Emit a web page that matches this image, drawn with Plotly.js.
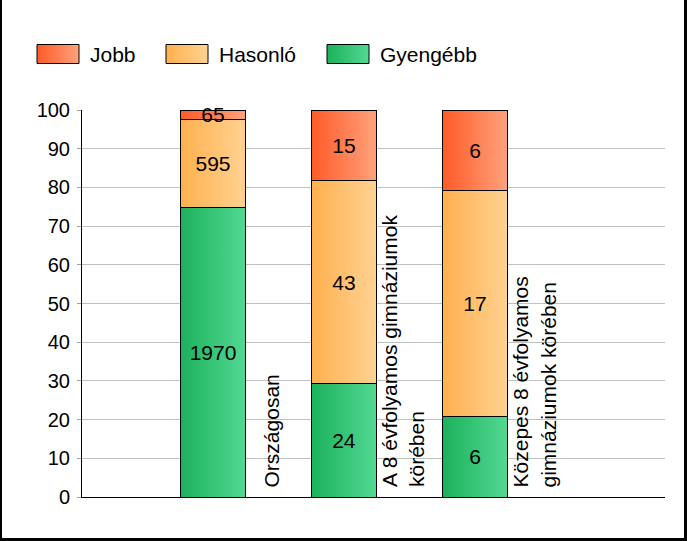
<!DOCTYPE html>
<html>
<head>
<meta charset="utf-8">
<script src="https://cdn.plot.ly/plotly-3.0.1.min.js"></script>
<style>
  html, body { margin: 0; padding: 0; background: #fff; }
  #wrap { position: relative; width: 687px; height: 541px; }
  #chart { position: absolute; left: 0; top: 0; width: 687px; height: 541px; }
  #frame { position: absolute; left: 0; top: 0; width: 687px; height: 541px; box-sizing: border-box;
           border-left: 2px solid #000; border-right: 3px solid #000; border-bottom: 3px solid #000; border-top: 0;
           pointer-events: none; }
</style>
</head>
<body>
<div id="wrap"><div id="chart"></div><div id="frame"></div></div>
<script>
// ---- data ----
const categories = ["Országosan", "A 8 évfolyamos gimnáziumok<br>körében", "Közepes 8 évfolyamos<br>gimnáziumok körében"];
const positions = [1, 2, 3];
const gyengebb = [1970, 24, 6];
const hasonlo  = [595, 43, 17];
const jobb     = [65, 15, 6];
const seriesNames = ["Jobb", "Hasonló", "Gyengébb"];
const yTicks = [0, 10, 20, 30, 40, 50, 60, 70, 80, 90, 100];

// gradient colours (left, right)
const gradJobb = ["#FF5A28", "#FFA27C"];
const gradHas  = ["#FFB04E", "#FFD292"];
const gradGy   = ["#1BB15C", "#52D892"];

const FONT = "'Liberation Sans', Arial, sans-serif";

function barTrace(name, vals, grad) {
  return {
    type: "bar", name: name, x: positions, y: vals,
    text: vals.map(String), textposition: "inside", insidetextanchor: "middle",
    textangle: 0, constraintext: "none", cliponaxis: false,
    textfont: { family: FONT, size: 21, color: "#000" },
    width: 0.5,
    marker: { color: grad[0], line: { color: "#000", width: 1 } },
    hoverinfo: "skip", showlegend: false
  };
}

const traces = [
  barTrace("Gyengébb", gyengebb, gradGy),
  barTrace("Hasonló", hasonlo, gradHas),
  barTrace("Jobb", jobb, gradJobb)
];

// plot geometry helpers for legend (pixels -> paper)
const L = 82, R = 22, T = 110, B = 44, W = 687, H = 541;
const pw = W - L - R, ph = H - T - B;
const px2x = p => (p - L) / pw;
const py2y = p => (H - B - p) / ph;

const legendItems = [
  { name: seriesNames[0], grad: gradJobb, x0: 37 },
  { name: seriesNames[1], grad: gradHas,  x0: 166 },
  { name: seriesNames[2], grad: gradGy,   x0: 327 }
];

const shapes = legendItems.map(it => ({
  type: "rect", xref: "paper", yref: "paper",
  x0: px2x(it.x0), x1: px2x(it.x0 + 42), y0: py2y(63.5), y1: py2y(44.5),
  fillcolor: it.grad[0], line: { color: "#000", width: 1 }, layer: "above"
}));

const annotations = legendItems.map(it => ({
  xref: "paper", yref: "paper", x: px2x(it.x0 + 51), y: py2y(54),
  xanchor: "left", yanchor: "middle", showarrow: false,
  text: it.name, font: { family: FONT, size: 21, color: "#000" }
}));

categories.forEach((c, i) => {
  annotations.push({
    xref: "x", yref: "y", x: positions[i] + 0.45, y: 0,
    xanchor: "center", yanchor: "bottom", yshift: 8,
    textangle: -90, align: "left", showarrow: false,
    text: c, font: { family: FONT, size: 21, color: "#000" }
  });
});

const layout = {
  width: W, height: H,
  margin: { l: L, r: R, t: T, b: B, pad: 0 },
  paper_bgcolor: "#fff", plot_bgcolor: "#fff",
  barmode: "stack", barnorm: "percent",
  showlegend: false,
  font: { family: FONT, size: 20, color: "#000" },
  xaxis: {
    range: [0, 4.45], showticklabels: false, ticks: "", showgrid: false,
    zeroline: false, showline: true, linecolor: "#000", linewidth: 1, fixedrange: true
  },
  yaxis: {
    range: [0, 100], tickvals: yTicks, ticktext: yTicks.map(String),
    ticks: "outside", ticklen: 4, tickcolor: "#a0a0a0", ticklabelstandoff: 3,
    showgrid: true, gridcolor: "#c0c0c0", gridwidth: 1,
    zeroline: false, showline: true, linecolor: "#000", linewidth: 1,
    tickfont: { family: FONT, size: 20, color: "#000" }, fixedrange: true
  },
  shapes: shapes,
  annotations: annotations
};

Plotly.newPlot("chart", traces, layout, { staticPlot: true, displayModeBar: false }).then(gd => {
  const svg = gd.querySelector(".main-svg");
  let defs = svg.querySelector("defs");
  if (!defs) { defs = document.createElementNS("http://www.w3.org/2000/svg", "defs"); svg.insertBefore(defs, svg.firstChild); }
  function addGrad(id, cols) {
    const g = document.createElementNS("http://www.w3.org/2000/svg", "linearGradient");
    g.setAttribute("id", id);
    g.setAttribute("x1", "0"); g.setAttribute("y1", "0"); g.setAttribute("x2", "1"); g.setAttribute("y2", "0");
    [[0, cols[0]], [1, cols[1]]].forEach(([o, c]) => {
      const s = document.createElementNS("http://www.w3.org/2000/svg", "stop");
      s.setAttribute("offset", o); s.setAttribute("stop-color", c);
      g.appendChild(s);
    });
    defs.appendChild(g);
  }
  const grads = [gradGy, gradHas, gradJobb];
  grads.forEach((c, i) => addGrad("bgrad" + i, c));
  gd.querySelectorAll(".barlayer .trace").forEach((tr, i) => {
    tr.querySelectorAll(".point path").forEach(p => { p.style.fill = "url(#bgrad" + i + ")"; });
  });
  legendItems.forEach((it, i) => addGrad("lgrad" + i, it.grad));
  gd.querySelectorAll(".shapelayer path").forEach((p, i) => {
    if (i < legendItems.length) p.style.fill = "url(#lgrad" + i + ")";
  });
});
</script>
</body>
</html>
